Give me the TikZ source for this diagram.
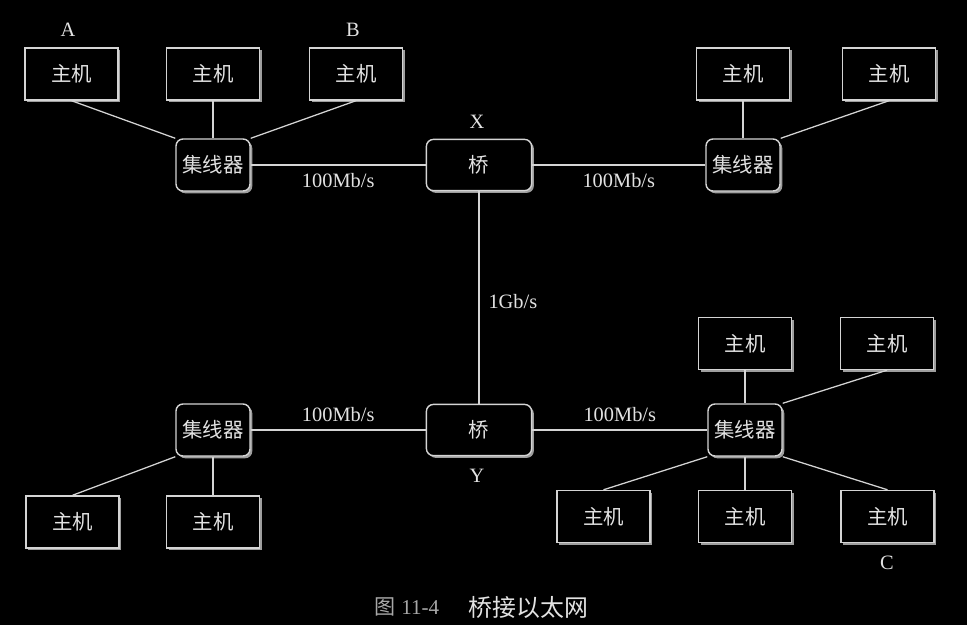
\documentclass[tikz,border=0pt]{standalone}
\usepackage{fontspec}
\setmainfont{Liberation Serif}
\newfontfamily\cjk{Noto Sans CJK SC}
\usetikzlibrary{shadows}
\definecolor{linegray}{HTML}{D4D4D4}
\definecolor{textgray}{HTML}{E2E2E2}
\definecolor{capgray}{HTML}{A8A8A8}
\begin{document}
\begin{tikzpicture}[x=0.025cm, y=-0.025cm,
  host/.style={rectangle, draw=linegray, fill=black, line width=1pt, minimum width=2.33cm, minimum height=1.3cm, inner sep=0pt, text=textgray, font=\cjk\fontsize{14.5}{16}\selectfont, drop shadow={shadow xshift=1.6pt, shadow yshift=-1.6pt, fill=linegray, opacity=0.75}},
  hub/.style={host, rounded corners=5pt, minimum width=1.85cm},
  bridge/.style={host, rounded corners=5pt, minimum width=2.63cm, minimum height=1.28cm},
  link/.style={draw=linegray, line width=0.9pt},
  lbl/.style={text=textgray, font=\fontsize{14.5}{16}\selectfont}]

\fill[black] (0, 0) rectangle (967, 625);

\node (hA)[host] at (71.5, 74) {主机};
\node (h2)[host] at (213, 74) {主机};
\node (hB)[host] at (356, 74) {主机};
\node (h4)[host] at (743, 74) {主机};
\node (h5)[host] at (889, 74) {主机};

\node (hub1)[hub] at (213, 165) {集线器};
\node (bX)[bridge] at (479, 165) {桥};
\node (hub2)[hub] at (743, 165) {集线器};

\node (hub3)[hub] at (213, 430) {集线器};
\node (bY)[bridge] at (479, 430) {桥};
\node (hub4)[hub] at (745, 430) {集线器};

\node (h6)[host] at (72.5, 522) {主机};
\node (h7)[host] at (213, 522) {主机};

\node (h8)[host] at (745, 343.5) {主机};
\node (h9)[host] at (887, 343.5) {主机};

\node (h10)[host] at (603.5, 516.5) {主机};
\node (hC)[host] at (745, 516.5) {主机};
\node (h12)[host] at (887.5, 516.5) {主机};

\node (la)[lbl] at (68, 30) {A};
\node (lb)[lbl] at (353, 30) {B};
\node (lx)[lbl] at (477, 122) {X};
\node (ly)[lbl] at (477, 476) {Y};
\node (lc)[lbl] at (887, 563) {C};

\draw[link] (hA.south) -- (hub1.north west);
\draw[link] (h2.south) -- (hub1.north);
\draw[link] (hB.south) -- (hub1.north east);
\draw[link] (h4.south) -- (hub2.north);
\draw[link] (h5.south) -- (hub2.north east);

\draw[link] (hub1.east) -- (bX.west) node[lbl, pos=0.5, below=2pt] {100Mb/s};
\draw[link] (bX.east) -- (hub2.west) node[lbl, pos=0.5, below=2pt] {100Mb/s};
\draw[link] (bX.south) -- (bY.north) node[lbl, pos=0.52, right=3pt] {1Gb/s};
\draw[link] (hub3.east) -- (bY.west) node[lbl, pos=0.5, above=2pt] {100Mb/s};
\draw[link] (bY.east) -- (hub4.west) node[lbl, pos=0.5, above=2pt] {100Mb/s};

\draw[link] (hub3.south west) -- (h6.north);
\draw[link] (hub3.south) -- (h7.north);

\draw[link] (hub4.north) -- (h8.south);
\draw[link] (hub4.north east) -- (h9.south);
\draw[link] (hub4.south west) -- (h10.north);
\draw[link] (hub4.south) -- (hC.north);
\draw[link] (hub4.south east) -- (h12.north);

\node (fig)[text=capgray, font=\fontsize{15}{17}\selectfont, anchor=west] at (370, 607) {{\cjk 图} 11-4};
\node (title)[text=textgray, font=\cjk\fontsize{17}{19}\selectfont, anchor=west] at (464, 607) {桥接以太网};

\end{tikzpicture}
\end{document}
